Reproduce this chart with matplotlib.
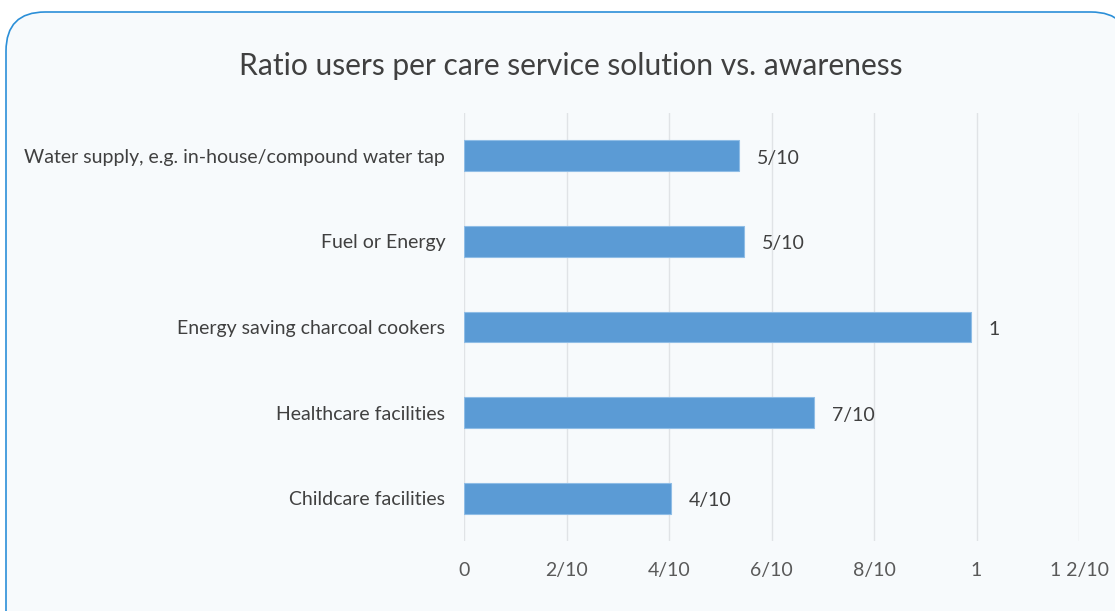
import matplotlib.pyplot as plt
from matplotlib.patches import FancyBboxPatch

categories = ['Water supply, e.g. in-house/compound water tap',
              'Fuel or Energy',
              'Energy saving charcoal cookers',
              'Healthcare facilities',
              'Childcare facilities']
values = [0.537, 0.546, 0.989, 0.683, 0.403]
bar_labels = ['5/10', '5/10', '1', '7/10', '4/10']
xticks = [0, 0.2, 0.4, 0.6, 0.8, 1.0, 1.2]
xtick_labels = ['0', '2/10', '4/10', '6/10', '8/10', '1', '1 2/10']

plt.rcParams['font.family'] = ['Lato', 'DejaVu Sans']

fig = plt.figure(figsize=(11.15, 6.11), dpi=100)
W, H = 1115, 611

# rounded card background
card = FancyBboxPatch((6 / W, -0.2), (1130 - 6) / W, (611 - 12) / H + 0.2,
                      boxstyle='round,pad=0,rounding_size=0.035',
                      transform=fig.transFigure, facecolor='#f7fafc',
                      edgecolor='#2b8fd8', linewidth=1.2, mutation_aspect=W / H,
                      zorder=-10)
fig.patches.append(card)

ax = fig.add_axes([464 / W, 1 - 541 / H, (1079 - 464) / W, (541 - 113) / H])
ax.set_facecolor('none')

y = list(range(len(categories)))
ax.barh(y, values, height=0.36, color='#5b9bd5', edgecolor='#8fbde6', linewidth=0.8, zorder=3)
for yi, v, lab in zip(y, values, bar_labels):
    ax.text(v + 0.035, yi + 0.03, lab, va='center', ha='left', fontsize=14, color='#404040')

ax.set_xlim(0, 1.2)
ax.set_ylim(len(categories) - 0.5, -0.5)
ax.set_yticks(y)
ax.set_yticklabels(categories, fontsize=14, color='#404040')
ax.set_xticks(xticks)
ax.set_xticklabels(xtick_labels, fontsize=14, color='#595959')
ax.tick_params(length=0, pad=13.5, axis='y')
ax.tick_params(length=0, pad=15, axis='x')
ax.grid(axis='x', color='#e0e3e6', linewidth=1, zorder=0)
for s in ax.spines.values():
    s.set_visible(False)

fig.text(571 / W, 1 - 66 / H, 'Ratio users per care service solution vs. awareness',
         ha='center', va='center', fontsize=21.6, color='#404040')

plt.savefig('out.png', dpi=100)
